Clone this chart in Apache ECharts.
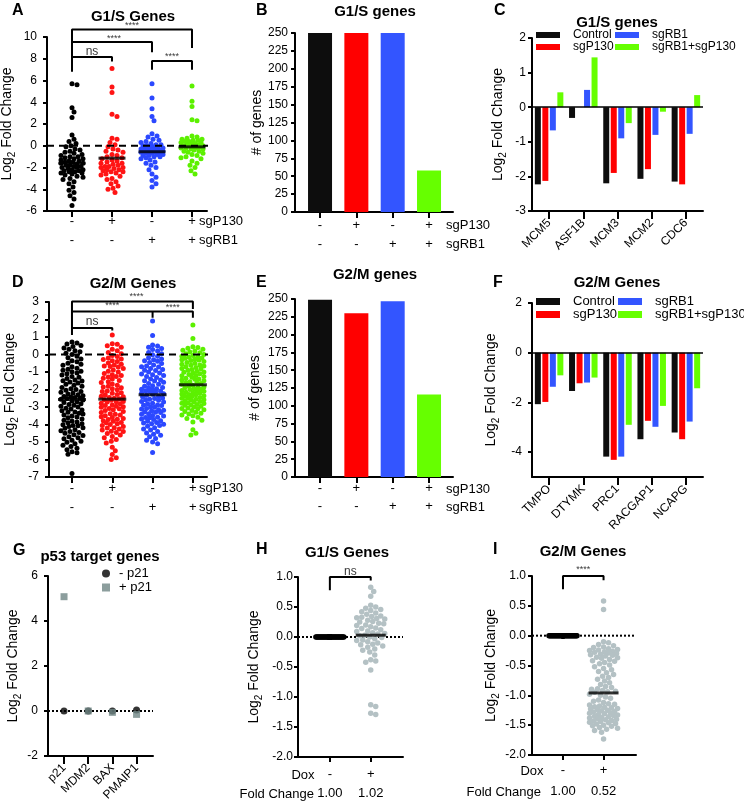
<!DOCTYPE html>
<html>
<head>
<meta charset="utf-8">
<script src="https://cdn.jsdelivr.net/npm/echarts@6/dist/echarts.min.js"></script>
<style>
  html, body { margin: 0; padding: 0; background: #fff; }
  #chart { width: 744px; height: 811px; }
</style>
</head>
<body>
<div id="chart"></div>
<script>
// ---------------- data ----------------
const groupNames = ['Control', 'sgP130', 'sgRB1', 'sgRB1+sgP130'];
const rowP130 = ['-', '+', '-', '+'];
const rowRB1 = ['-', '-', '+', '+'];

// A: G1/S genes, log2 fold change per gene
const g1sControl = [5.7, 5.6, 3.5, 3.1, 2.6, 1.0, 0.6, 0.4, 0.2, 0.0, -0.1, -0.3, -0.4, -0.5, -0.6, -0.8, -0.9, -1.0, -1.0, -1.1,
  -1.2, -1.2, -1.3, -1.4, -1.4, -1.5, -1.6, -1.6, -1.7, -1.8, -1.8, -1.9, -2.0, -2.0, -2.1, -2.2, -2.2, -2.3, -2.4, -2.4,
  -2.5, -2.6, -2.7, -2.8, -2.9, -3.0, -3.1, -3.3, -3.5, -3.8, -4.1, -4.3, -4.6, -4.9, -5.5, -1.5, -2.5, -0.7, -1.9, -2.3];
const g1sP130 = [7.1, 5.4, 4.9, 2.9, 2.7, 0.7, 0.6, 0.3, 0.1, -0.1, -0.3, -0.5, -0.6, -0.8, -0.9, -1.0, -1.1, -1.2, -1.3, -1.4,
  -1.5, -1.6, -1.7, -1.8, -1.9, -2.0, -2.0, -2.1, -2.2, -2.3, -2.4, -2.5, -2.6, -2.7, -2.8, -3.0, -3.1, -3.3, -3.5, -3.7,
  -3.9, -4.0, -4.3, -1.9, -2.4, -1.6, -0.4, -2.2];
const g1sRB1 = [5.7, 4.4, 3.4, 2.7, 2.3, 1.1, 0.9, 0.8, 0.6, 0.5, 0.4, 0.3, 0.2, 0.1, 0.1, 0.0, 0.0, -0.1, -0.1, -0.2,
  -0.2, -0.3, -0.3, -0.4, -0.4, -0.5, -0.5, -0.5, -0.6, -0.6, -0.7, -0.7, -0.8, -0.8, -0.9, -0.9, -1.0, -1.0, -1.1, -1.2,
  -1.3, -1.5, -1.6, -1.8, -2.0, -2.2, -2.6, -2.9, -3.2, -3.5, -3.8, -0.3, -0.6, -0.2, -0.7];
const g1sBoth = [5.5, 4.1, 3.6, 2.4, 2.3, 0.9, 0.8, 0.7, 0.6, 0.6, 0.5, 0.5, 0.4, 0.4, 0.3, 0.3, 0.2, 0.2, 0.1, 0.1,
  0.0, 0.0, -0.1, -0.1, -0.2, -0.2, -0.3, -0.3, -0.4, -0.5, -0.5, -0.6, -0.7, -0.8, -0.9, -1.0, -1.1, -1.2, -1.4, -1.6,
  -1.8, -2.0, -2.3, -2.6, -0.2, 0.0];
const g1sMedians = [-1.6, -1.14, -0.55, -0.1];

// B / E: number of genes
const g1sCounts = [250, 250, 250, 58];
const g2mCounts = [249, 230, 247, 116];

// C: selected G1/S genes
const g1sGenes = ['MCM5', 'ASF1B', 'MCM3', 'MCM2', 'CDC6'];
const g1sGeneControl = [-2.23, -0.31, -2.2, -2.07, -2.15];
const g1sGeneP130 = [-2.13, 0, -1.9, -1.79, -2.23];
const g1sGeneRB1 = [-0.67, 0.5, -0.9, -0.8, -0.77];
const g1sGeneBoth = [0.43, 1.44, -0.46, -0.13, 0.35];

// D: G2/M genes, log2 fold change per gene
const g2mControl = [0.72, 0.66, 0.6, 0.51, 0.46, 0.37, 0.3, 0.21, 0.16, 0.07, 0.0, -0.1, -0.19, -0.25, -0.36, -0.42, -0.5, -0.56,
  -0.61, -0.7, -0.79, -0.84, -0.9, -0.98, -1.06, -1.1, -1.17, -1.26, -1.3, -1.37, -1.46, -1.5, -1.57, -1.63, -1.7, -1.76,
  -1.81, -1.88, -1.96, -2.0, -2.04, -2.11, -2.15, -2.2, -2.26, -2.3, -2.36, -2.4, -2.43, -2.46, -2.5, -2.52, -2.55, -0.95, -1.52,
  -2.6, -2.66, -2.7, -2.74, -2.81, -2.85, -2.9, -2.96, -3.0, -3.07, -3.12, -3.17, -3.22, -3.29, -3.35, -3.4, -3.46, -3.52,
  -3.57, -3.62, -3.69, -3.75, -3.8, -3.86, -3.9, -3.96, -4.02, -4.07, -4.12, -4.19, -4.22, -4.3, -4.36, -4.4, -4.46, -4.5,
  -4.58, -4.63, -4.7, -4.76, -4.82, -4.9, -4.96, -5.02, -5.1, -5.18, -5.26, -5.35, -5.44, -5.55, -5.62, -5.7, -6.8, -3.3, -4.05];
const g2mP130 = [1.12, 0.62, 0.58, 0.5, 0.42, 0.3, 0.22, 0.12, 0.05, -0.05, -0.12, -0.2, -0.28, -0.35, -0.4, -0.48, -0.55,
  -0.6, -0.68, -0.72, -0.8, -0.88, -0.95, -1.0, -1.08, -1.15, -1.2, -1.28, -1.35, -1.4, -1.48, -1.55, -1.6, -1.68, -1.75,
  -1.82, -1.9, -1.95, -2.02, -2.08, -2.12, -2.18, -2.22, -2.28, -2.32, -2.38, -2.42, -2.45, -2.5, -2.53, -0.65, -1.25, -0.25, -1.85,
  -2.58, -2.62, -2.68, -2.72, -2.78, -2.82, -2.88, -2.92, -2.98, -3.02, -3.08, -3.15, -3.2, -3.25, -3.32, -3.38, -3.42,
  -3.5, -3.55, -3.6, -3.65, -3.72, -3.78, -3.82, -3.88, -3.95, -4.0, -4.05, -4.12, -4.18, -4.25, -4.32, -4.38, -4.45, -4.52,
  -4.6, -4.68, -4.75, -4.85, -4.95, -5.05, -5.3, -5.5, -5.72, -5.9, -6.0, -2.95, -3.45, -3.7, -4.2, -2.7, -3.1, -4.4, -3.9];
const g2mRB1 = [1.92, 1.08, 0.55, 0.48, 0.42, 0.35, 0.28, 0.2, 0.12, 0.05, -0.02, -0.1, -0.18, -0.25, -0.3, -0.38, -0.45,
  -0.52, -0.6, -0.65, -0.72, -0.8, -0.85, -0.92, -1.0, -1.05, -1.12, -1.2, -1.25, -1.32, -1.4, -1.45, -1.52, -1.58, -1.65,
  -1.7, -1.78, -1.82, -1.88, -1.92, -1.98, -2.02, -2.08, -2.12, -2.16, -2.2, -2.24, -2.27, -0.7, -1.5, -0.35, -1.15, -1.95, -0.9, -2.1,
  -2.33, -2.38, -2.42, -2.48, -2.52, -2.58, -2.62, -2.68, -2.72, -2.78, -2.82, -2.88, -2.92, -2.98, -3.02, -3.08, -3.12,
  -3.18, -3.22, -3.28, -3.32, -3.38, -3.42, -3.48, -3.52, -3.58, -3.62, -3.68, -3.72, -3.78, -3.82, -3.88, -3.92, -3.98,
  -4.05, -4.1, -4.18, -4.25, -4.32, -4.4, -4.48, -4.55, -4.62, -4.7, -4.8, -4.9, -5.0, -5.1, -5.6, -3.3, -3.6, -2.9, -3.95, -3.15, -2.55];
const g2mBoth = [1.68, 0.92, 0.45, 0.4, 0.36, 0.3, 0.24, 0.2, 0.15, 0.1, 0.04, 0.0, -0.05, -0.1, -0.16, -0.2, -0.25, -0.3,
  -0.34, -0.4, -0.45, -0.5, -0.56, -0.6, -0.65, -0.7, -0.74, -0.8, -0.85, -0.9, -0.96, -1.0, -1.05, -1.1, -1.14, -1.2,
  -1.25, -1.3, -1.36, -1.4, -1.45, -1.5, -1.55, -1.6, -1.65, -1.7, -0.22, -0.62, -1.02, -1.42, -0.32, -0.82, -1.22, -1.62, -0.12,
  -1.75, -1.8, -1.85, -1.9, -1.95, -2.0, -2.05, -2.1, -2.15, -2.2, -2.25, -2.3, -2.35, -2.4, -2.45, -2.5, -2.55, -2.6,
  -2.65, -2.7, -2.75, -2.8, -2.85, -2.9, -2.95, -3.0, -3.05, -3.1, -3.15, -3.2, -3.25, -3.3, -3.35, -3.4, -3.45, -3.5,
  -3.58, -3.65, -3.75, -3.85, -4.3, -4.5, -4.6, -1.88, -2.08, -2.28, -2.48, -2.68, -2.88, -3.08, -1.98, -2.18, -2.38, -2.58, -2.78];
const g2mMedians = [-2.57, -2.55, -2.3, -1.73];

// F: selected G2/M genes
const g2mGenes = ['TMPO', 'DTYMK', 'PRC1', 'RACGAP1', 'NCAPG'];
const g2mGeneControl = [-2.07, -1.54, -4.18, -3.48, -3.21];
const g2mGeneP130 = [-1.98, -1.23, -4.31, -2.74, -3.48];
const g2mGeneRB1 = [-1.37, -1.2, -4.18, -2.98, -2.77];
const g2mGeneBoth = [-0.91, -1.0, -2.9, -2.14, -1.43];

// G: p53 target genes
const p53Genes = ['p21', 'MDM2', 'BAX', 'PMAIP1'];
const p21Minus = [0, 0, 0, 0.04];
const p21Plus = [5.08, 0, -0.06, -0.15];

// H / I: Dox induction
const doxRow = ['-', '+'];
const hFoldChange = ['1.00', '1.02'];
const iFoldChange = ['1.00', '0.52'];
const hNoDox = [0, 0, 0, 0, 0, 0, 0, 0, 0, 0, 0, 0, 0, 0, 0, 0, 0, 0, 0, 0,
  0, 0, 0, 0, 0, 0, 0, 0, 0, 0, 0, 0, 0, 0, 0, 0, 0, 0, 0, 0];
const hDox = [0.83, 0.76, 0.68, 0.53, 0.5, 0.48, 0.46, 0.44, 0.42, 0.4, 0.38, 0.35, 0.34, 0.33, 0.32, 0.31, 0.3, 0.28,
  0.26, 0.25, 0.23, 0.22, 0.2, 0.19, 0.17, 0.15, 0.14, 0.12, 0.1, 0.09, 0.07, 0.06, 0.05, 0.03, 0.02, 0.0, -0.01, -0.03,
  -0.05, -0.06, -0.08, -0.1, -0.12, -0.13, -0.15, -0.17, -0.2, -0.22, -0.25, -0.3, -0.38, -0.4, -0.42, -0.55, -1.13,
  -1.16, -1.27, -1.29];
const hMedians = [0, 0.03];
const iNoDox = [0, 0, 0, 0, 0, 0, 0, 0, 0, 0, 0, 0, 0, 0, 0, 0, 0, 0, 0, 0,
  0, 0, 0, 0, 0, 0, 0, 0, 0, 0, 0, 0, 0, 0, 0, 0, 0, 0, 0, 0];
const iDox = [0.58, 0.44, -0.1, -0.12, -0.15, -0.17, -0.19, -0.2, -0.22, -0.23, -0.24, -0.25, -0.26, -0.27, -0.28, -0.29,
  -0.3, -0.31, -0.32, -0.33, -0.34, -0.36, -0.37, -0.38, -0.4, -0.42, -0.43, -0.45, -0.47, -0.49, -0.52, -0.55, -0.57,
  -0.6, -0.62, -0.65, -0.68, -0.7, -0.73, -0.76, -0.79, -0.82, -0.85, -0.87, -0.89, -0.9, -0.92, -0.93, -0.94, -0.95,
  -0.98, -1.0, -1.03, -1.05, -1.08, -1.1, -1.12, -1.14, -1.15, -1.16, -1.18, -1.19, -1.2, -1.21, -1.22, -1.23, -1.24,
  -1.25, -1.26, -1.27, -1.28, -1.29, -1.3, -1.31, -1.32, -1.33, -1.34, -1.35, -1.36, -1.37, -1.38, -1.39, -1.4, -1.41,
  -1.42, -1.43, -1.44, -1.45, -1.46, -1.47, -1.48, -1.5, -1.51, -1.52, -1.54, -1.55, -1.57, -1.59, -1.62, -1.73];
const iMedians = [0, -0.96];

// ---------------- layout / style ----------------
const FONT = "'Liberation Sans', Arial, sans-serif";
const dotColors = ['#000000', '#ff1414', '#2b48ff', '#5cf000'];
const barColors = ['#0d0d0d', '#ff0000', '#3355ff', '#66ff00'];
const greyDot = '#b4c1c4';

// grid boxes and axis ranges of the nine panels
const panels = [
  { left: 47, top: 37, w: 160, h: 174, xmin: 0.375, xmax: 4.375, ymin: -6, ymax: 10 },   // A
  { left: 295, top: 33, w: 158, h: 179, xmin: 0.311, xmax: 4.66, ymin: 0, ymax: 250 },   // B
  { left: 532, top: 38, w: 171, h: 173, ymin: -3, ymax: 2 },                               // C
  { left: 49, top: 302, w: 158, h: 175, xmin: 0.43, xmax: 4.35, ymin: -7, ymax: 3 },      // D
  { left: 295, top: 299, w: 158, h: 178, xmin: 0.311, xmax: 4.66, ymin: 0, ymax: 250 },  // E
  { left: 532, top: 303, w: 171, h: 174, ymin: -5, ymax: 2 },                              // F
  { left: 48, top: 576, w: 105, h: 180, xmin: 0.337, xmax: 4.68, ymin: -2, ymax: 6 },     // G
  { left: 298, top: 577, w: 105, h: 180, xmin: 0.22, xmax: 2.79, ymin: -2, ymax: 1 },     // H
  { left: 532, top: 576, w: 104, h: 179, xmin: 0.236, xmax: 2.8, ymin: -2, ymax: 1 }      // I
];

const nameRich = {
  n: { fontFamily: FONT, fontSize: 14, color: '#000', lineHeight: 20, verticalAlign: 'middle' },
  s: { fontFamily: FONT, fontSize: 10, color: '#000', lineHeight: 10, verticalAlign: 'bottom' }
};
const LOG2 = '{n|Log}{s|2}{n| Fold Change}';

function yAx(i, o) {
  const p = panels[i];
  return {
    type: 'value', gridIndex: i, min: p.ymin, max: p.ymax, interval: o.interval,
    name: o.name, nameLocation: 'middle', nameGap: o.gap, nameRotate: 90,
    nameTextStyle: { fontFamily: FONT, fontSize: 14, color: '#000', rich: nameRich },
    axisLine: { show: true, onZero: false, lineStyle: { color: '#000', width: 2 } },
    axisTick: { show: true, length: 4, lineStyle: { color: '#000', width: 2 }, customValues: o.ticks },
    axisLabel: { color: '#000', fontFamily: FONT, fontSize: 12, margin: o.margin, formatter: o.fmt, customValues: o.ticks },
    splitLine: { show: false }
  };
}

function xVal(i, ticks, fmt, o) {
  const p = panels[i];
  return {
    type: 'value', gridIndex: i, min: p.xmin, max: p.xmax,
    axisLine: { show: true, onZero: false, lineStyle: { color: '#000', width: 2 } },
    axisTick: { show: true, length: o.tick, lineStyle: { color: '#000', width: 2 }, customValues: ticks },
    axisLabel: {
      color: '#000', fontFamily: FONT, fontSize: o.size || 13, margin: o.margin, lineHeight: o.lh,
      rotate: o.rotate || 0, customValues: ticks, formatter: fmt
    },
    splitLine: { show: false }
  };
}

function xCat(i, cats) {
  return {
    type: 'category', gridIndex: i, data: cats,
    axisLine: { show: true, onZero: false, lineStyle: { color: '#000', width: 2 } },
    axisTick: { show: true, alignWithLabel: true, length: 8, lineStyle: { color: '#000', width: 2 } },
    axisLabel: { color: '#000', fontFamily: FONT, fontSize: 12, rotate: 45, margin: 10, interval: 0 },
    splitLine: { show: false }
  };
}

// column scatter layout: spread points sideways so they do not overlap
function swarm(vals, center, p, size, maxHalf) {
  const kx = p.w / (p.xmax - p.xmin);
  const ky = p.h / (p.ymax - p.ymin);
  const placed = [];
  const out = [];
  const order = vals.map((v, i) => i).sort((a, b) => vals[b] - vals[a]);
  order.forEach(i => {
    const py = vals[i] * ky;
    let bestOff = 0, bestDist = -1;
    for (let k = 0; k <= maxHalf * 2; k++) {
      const off = (k % 2 ? 1 : -1) * Math.ceil(k / 2);
      let dmin = Infinity;
      placed.forEach(q => {
        const dx = q[0] - off, dy = q[1] - py;
        const d = Math.sqrt(dx * dx + dy * dy);
        if (d < dmin) dmin = d;
      });
      if (dmin >= size) { bestOff = off; break; }
      if (dmin > bestDist) { bestDist = dmin; bestOff = off; }
    }
    placed.push([bestOff, py]);
    out.push([center + bestOff / kx, vals[i]]);
  });
  return out;
}

const series = [];

function addSwarm(gi, groups, colors, size, half) {
  groups.forEach((vals, g) => {
    series.push({
      type: 'scatter', xAxisIndex: gi, yAxisIndex: gi, symbolSize: size, silent: true, z: 2,
      itemStyle: { color: colors[g], opacity: 1 },
      data: swarm(vals, g + 1, panels[gi], size * 0.92, half)
    });
  });
}

function addMedians(gi, meds, width) {
  series.push({
    type: 'scatter', xAxisIndex: gi, yAxisIndex: gi, symbol: 'rect', symbolSize: [width, 3], silent: true, z: 5,
    itemStyle: { color: '#000' },
    data: meds.map((m, g) => [g + 1, m])
  });
}

function addLine(gi, pts, type, z) {
  series.push({
    type: 'line', xAxisIndex: gi, yAxisIndex: gi, data: pts, symbol: 'none', clip: false, silent: true, z: z || 3,
    lineStyle: { color: '#000', width: 2, type: type || 'solid' }
  });
}

function addNotes(gi, notes) {
  series.push({
    type: 'scatter', xAxisIndex: gi, yAxisIndex: gi, symbolSize: 0, clip: false, silent: true, z: 6,
    data: notes.map(n => ({
      value: [n[0], n[1]],
      label: { show: true, position: 'inside', formatter: n[2], color: '#000', fontFamily: FONT, fontSize: n[3] }
    }))
  });
}

function addBars(gi, groups, names) {
  groups.forEach((vals, g) => {
    series.push({
      type: 'bar', name: names[g], xAxisIndex: gi, yAxisIndex: gi, barWidth: 6, barGap: '25%', silent: true,
      itemStyle: { color: barColors[g] }, data: vals,
      markLine: g === 0 ? {
        silent: true, symbol: 'none', label: { show: false },
        lineStyle: { color: '#000', width: 1.5, type: 'solid' }, data: [{ yAxis: 0 }]
      } : undefined
    });
  });
}

// ---- A ----
addLine(0, [[panels[0].xmin, 0], [4.625, 0]], [7, 5], 4);
addSwarm(0, [g1sControl, g1sP130, g1sRB1, g1sBoth], dotColors, 5, 11);
addMedians(0, g1sMedians, 27);
addLine(0, [[1, 6.8], [1, 10.68], [4, 10.68], [4, 9.0]]);
addLine(0, [[1, 9.54], [3, 9.54], [3, 8.6]]);
addLine(0, [[1, 8.15], [2, 8.15], [2, 7.75]]);
addLine(0, [[3, 7.0], [3, 7.8], [4, 7.8], [4, 7.0]]);
addNotes(0, [[2.5, 11.1, '****', 9], [2.05, 9.85, '****', 9], [1.5, 8.65, 'ns', 12], [3.5, 8.25, '****', 9]]);

// ---- B / E ----
[[1, g1sCounts], [4, g2mCounts]].forEach(([gi, counts]) => {
  series.push({
    type: 'bar', xAxisIndex: gi, yAxisIndex: gi, barWidth: 24, silent: true,
    data: counts.map((c, g) => ({ value: [g + 1, c], itemStyle: { color: barColors[g] } }))
  });
});

// ---- C ----
addBars(2, [g1sGeneControl, g1sGeneP130, g1sGeneRB1, g1sGeneBoth], groupNames);

// ---- D ----
addLine(3, [[panels[3].xmin, 0], [4.6, 0]], [7, 5], 4);
addSwarm(3, [g2mControl, g2mP130, g2mRB1, g2mBoth], dotColors, 5, 11);
addMedians(3, g2mMedians, 28);
addLine(3, [[1, 1.12], [1, 3.03], [4, 3.03], [4, 2.6]]);
addLine(3, [[1, 2.46], [4, 2.46], [4, 2.1]]);
addLine(3, [[3, 2.46], [3, 2.1]]);
addLine(3, [[1, 1.51], [2, 1.51], [2, 1.37]]);
addNotes(3, [[2.6, 3.32, '****', 9], [2.0, 2.79, '****', 9], [3.5, 2.7, '****', 9], [1.5, 1.89, 'ns', 12]]);

// ---- F ----
addBars(5, [g2mGeneControl, g2mGeneP130, g2mGeneRB1, g2mGeneBoth], groupNames);

// ---- G ----
addLine(6, [[panels[6].xmin, 0], [panels[6].xmax, 0]], 'dotted', 1);
series.push({
  type: 'scatter', name: '- p21', xAxisIndex: 6, yAxisIndex: 6, symbol: 'circle', symbolSize: 7, silent: true, z: 3,
  itemStyle: { color: '#000' }, data: p21Minus.map((v, i) => [i + 1, v])
});
series.push({
  type: 'scatter', name: '+ p21', xAxisIndex: 6, yAxisIndex: 6, symbol: 'rect', symbolSize: 7, silent: true, z: 4,
  itemStyle: { color: '#6f8684' }, data: p21Plus.map((v, i) => [i + 1, v])
});

// ---- H ----
addLine(7, [[panels[7].xmin, 0], [panels[7].xmax, 0]], 'dotted', 1);
addSwarm(7, [hNoDox, hDox], ['#000', greyDot], 5.5, 14);
addMedians(7, hMedians, 30);
addLine(7, [[1, 0.78], [1, 1.0], [2, 1.0], [2, 0.94]]);
addNotes(7, [[1.5, 1.09, 'ns', 12]]);

// ---- I ----
addLine(8, [[panels[8].xmin, 0], [2.77, 0]], 'dotted', 1);
addSwarm(8, [iNoDox, iDox], ['#000', greyDot], 5.5, 14);
addMedians(8, iMedians, 30);
addLine(8, [[1, 0.78], [1, 1.0], [2, 1.0], [2, 0.93]]);
addNotes(8, [[1.5, 1.11, '****', 9]]);

// ---------------- axes ----------------
const grpFmt = v => { const i = Math.round(v) - 1; return rowP130[i] + '\n' + rowRB1[i]; };
const doxFmt = arr => v => { const i = Math.round(v) - 1; return doxRow[i] + '\n' + arr[i]; };
const four = [1, 2, 3, 4];
const two = [1, 2];
const oneDec = v => v.toFixed(1);

const xAxis = [
  xVal(0, four, grpFmt, { tick: 6, margin: 1, lh: 19 }),
  xVal(1, four, grpFmt, { tick: 6, margin: 4, lh: 19 }),
  xCat(2, g1sGenes),
  xVal(3, four, grpFmt, { tick: 6, margin: 2, lh: 19 }),
  xVal(4, four, grpFmt, { tick: 6, margin: 2, lh: 18 }),
  xCat(5, g2mGenes),
  xVal(6, four, v => p53Genes[Math.round(v) - 1], { tick: 8, margin: 10, rotate: 45, size: 12 }),
  xVal(7, two, doxFmt(hFoldChange), { tick: 5, margin: 8, lh: 19 }),
  xVal(8, two, doxFmt(iFoldChange), { tick: 5, margin: 5, lh: 21 })
];

const yAxis = [
  yAx(0, { interval: 2, name: LOG2, gap: 30, margin: 10 }),
  yAx(1, { interval: 25, name: '# of genes', gap: 31, margin: 7 }),
  yAx(2, { interval: 1, name: LOG2, gap: 24, margin: 6 }),
  yAx(3, { interval: 1, name: LOG2, gap: 29, margin: 10 }),
  yAx(4, { interval: 25, name: '# of genes', gap: 33, margin: 7 }),
  yAx(5, { name: LOG2, gap: 31, margin: 10, ticks: [-4, -2, 0, 2] }),
  yAx(6, { interval: 2, name: LOG2, gap: 25, margin: 10 }),
  yAx(7, { interval: 0.5, name: LOG2, gap: 34, margin: 5, fmt: oneDec }),
  yAx(8, { interval: 0.5, name: LOG2, gap: 30, margin: 6, fmt: oneDec })
];

const grid = panels.map(p => ({ left: p.left, top: p.top, width: p.w, height: p.h, outerBoundsMode: 'none' }));

// ---------------- legends ----------------
function legendCol(names, left, top, h, size) {
  return {
    data: names, orient: 'vertical', left: left, top: top, itemWidth: 24, itemHeight: h, itemGap: 0,
    icon: 'rect', selectedMode: false, padding: 0,
    textStyle: { fontFamily: FONT, fontSize: size, color: '#000', padding: [0, 0, 0, 8] }
  };
}
const legend = [
  legendCol([groupNames[0], groupNames[1]], 536, 29, 6, 12),
  legendCol([groupNames[2], groupNames[3]], 615, 29, 6, 12),
  legendCol([groupNames[0], groupNames[1]], 536, 295, 7, 13),
  legendCol([groupNames[2], groupNames[3]], 618, 295, 7, 13),
  {
    data: [{ name: '- p21', icon: 'circle' }, { name: '+ p21', icon: 'rect' }], orient: 'vertical',
    left: 102, top: 567, itemWidth: 8, itemHeight: 8, itemGap: 1, selectedMode: false, padding: 0,
    textStyle: { fontFamily: FONT, fontSize: 13, color: '#000', padding: [0, 0, 0, 4] }
  }
];

// ---------------- titles and side texts ----------------
function txt(text, x, y, size, bold, align) {
  return {
    type: 'text', x: x, y: y, silent: true,
    style: {
      text: text, fill: '#000', font: (bold ? 'bold ' : '') + size + 'px ' + FONT,
      textAlign: align || 'center', textVerticalAlign: 'middle'
    }
  };
}
const graphic = [
  txt('A', 12, 11, 16, true, 'left'), txt('B', 256, 11, 16, true, 'left'), txt('C', 494, 11, 16, true, 'left'),
  txt('D', 12, 283, 16, true, 'left'), txt('E', 256, 283, 16, true, 'left'), txt('F', 493, 283, 16, true, 'left'),
  txt('G', 13, 551, 16, true, 'left'), txt('H', 256, 550, 16, true, 'left'), txt('I', 493, 550, 16, true, 'left'),
  txt('G1/S Genes', 133, 17, 15, true), txt('G1/S genes', 375, 12, 15, true), txt('G1/S genes', 617, 23, 15, true),
  txt('G2/M Genes', 133, 284, 15, true), txt('G2/M genes', 375, 275, 15, true), txt('G2/M Genes', 617, 283, 15, true),
  txt('p53 target genes', 100, 557, 15, true), txt('G1/S Genes', 347, 553, 15, true), txt('G2/M Genes', 583, 552, 15, true),
  txt('sgP130', 199, 221, 13, false, 'left'), txt('sgRB1', 199, 240, 13, false, 'left'),
  txt('sgP130', 446, 225, 13, false, 'left'), txt('sgRB1', 446, 244, 13, false, 'left'),
  txt('sgP130', 199, 488, 13, false, 'left'), txt('sgRB1', 199, 507, 13, false, 'left'),
  txt('sgP130', 446, 489, 13, false, 'left'), txt('sgRB1', 446, 507, 13, false, 'left'),
  txt('Dox', 303, 775, 13, false), txt('Fold Change', 314, 794, 13, false, 'right'),
  txt('Dox', 532, 771, 13, false), txt('Fold Change', 541, 792, 13, false, 'right')
];

const chart = echarts.init(document.getElementById('chart'));
chart.setOption({
  animation: false,
  backgroundColor: '#fff',
  textStyle: { fontFamily: FONT },
  grid: grid,
  xAxis: xAxis,
  yAxis: yAxis,
  legend: legend,
  graphic: graphic,
  series: series
});
</script>
</body>
</html>
